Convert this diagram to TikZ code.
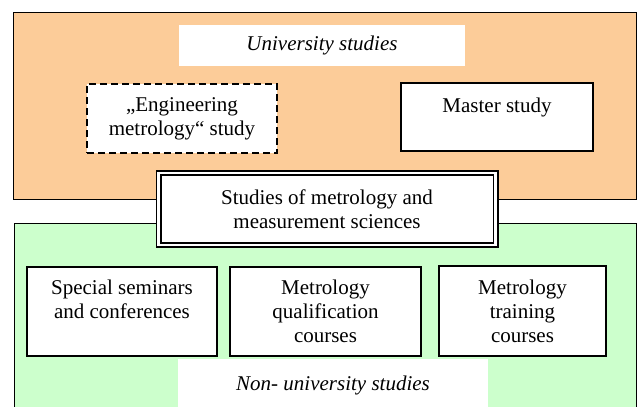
\documentclass[tikz,border=0pt]{standalone}
\usepackage{fontspec}
\setmainfont{Liberation Serif}
\usepackage{xcolor}
\usepackage{tikz}

\definecolor{unicol}{RGB}{252,204,153}
\definecolor{nonunicol}{RGB}{204,255,204}

\begin{document}
\begin{tikzpicture}[x=1pt, y=-1pt, font=\fontsize{21}{24}\selectfont]
\tikzstyle{area} = [rectangle, draw=black, line width=1.7pt, inner sep=0pt]
\tikzstyle{label} = [rectangle, fill=white, inner sep=0pt, font=\fontsize{21}{24}\selectfont\itshape]
\tikzstyle{box} = [rectangle, draw=black, line width=1.8pt, fill=white, align=center, inner sep=0pt]
\tikzstyle{dashbox} = [box, dash pattern=on 7pt off 4pt]
\tikzstyle{mainbox} = [box, line width=1.9pt, double=white, double distance=2.2pt]

\clip (0,0) rectangle (641,407);

% the two areas
\node (uni) [area, fill=unicol, minimum width=623pt, minimum height=187pt] at (325,106) {};
\node (nonuni) [area, fill=nonunicol, minimum width=622pt, minimum height=196pt] at (325.5,321.5) {};

% area titles
\node (unititle) [label, minimum width=286pt, minimum height=41pt] at (322,45.5) {\raisebox{-2pt}{University studies}};
\node (nonunititle) [label, minimum width=310pt, minimum height=52pt] at (333,385) {Non- university studies};

% university studies
\node (engmet) [dashbox, minimum width=190pt, minimum height=69pt] at (182,118.5) {„Engineering\\metrology“ study};
\node (master) [box, minimum width=192pt, minimum height=68pt] at (497,117) {Master study\\\mbox{}};

% non-university studies
\node (seminars) [box, minimum width=190pt, minimum height=89pt] at (122,311.5) {Special seminars\\and conferences\\\mbox{}};
\node (qualif) [box, minimum width=191pt, minimum height=89pt] at (325.5,311.5) {Metrology\\qualification\\courses};
\node (training) [box, minimum width=167pt, minimum height=90pt] at (522.5,311) {Metrology\\training\\courses};

% common part across both areas
\node (metsci) [mainbox, minimum width=337pt, minimum height=72pt] at (327,209) {Studies of metrology and\\measurement sciences};
\end{tikzpicture}
\end{document}
